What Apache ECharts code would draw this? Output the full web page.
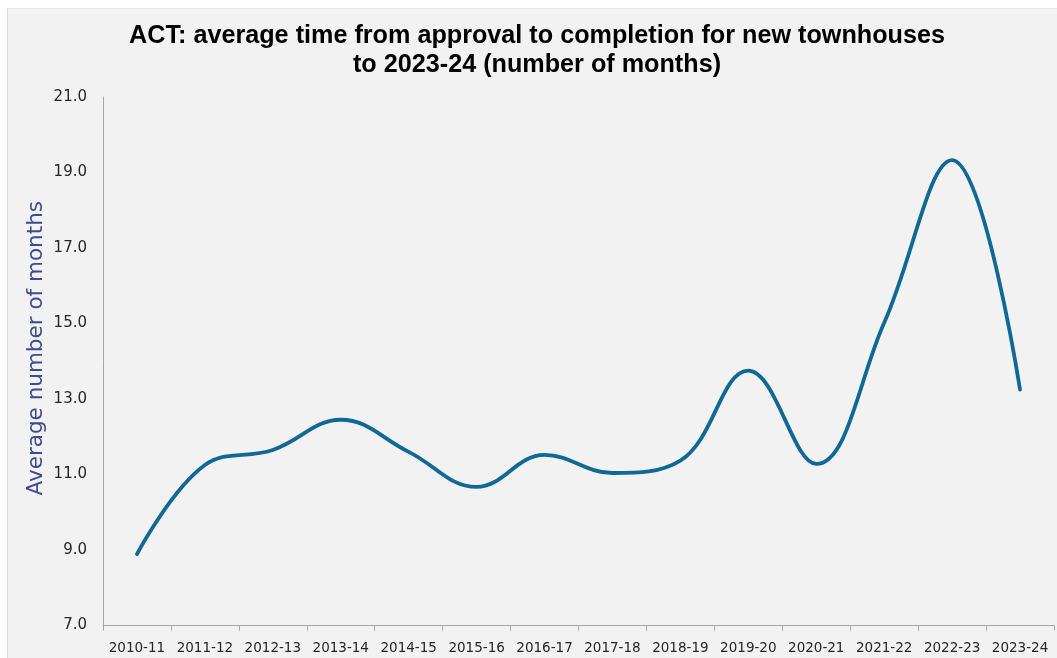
<!DOCTYPE html>
<html>
<head>
<meta charset="utf-8">
<script src="https://cdn.jsdelivr.net/npm/echarts@6/dist/echarts.min.js"></script>
<style>
html,body{margin:0;padding:0;background:#fff;width:1057px;height:658px;overflow:hidden;}
#bg{position:absolute;left:7px;top:8px;width:1050px;height:650px;background:#f2f2f2;border-left:1px solid #d9d9d9;border-top:1px solid #e6e6e6;}
#chart{position:absolute;left:0;top:0;width:1057px;height:658px;}
</style>
</head>
<body>
<div id="bg"></div>
<div id="chart"></div>
<script>
const titleText = "ACT: average time from approval to completion for new townhouses\nto 2023-24 (number of months)";
const yAxisName = "Average number of months";
const categories = ["2010-11","2011-12","2012-13","2013-14","2014-15","2015-16","2016-17","2017-18","2018-19","2019-20","2020-21","2021-22","2022-23","2023-24"];
const months = [8.89, 11.25, 11.65, 12.45, 11.6, 10.67, 11.52, 11.04, 11.37, 13.75, 11.28, 15.02, 19.33, 13.25];

const chart = echarts.init(document.getElementById('chart'), null, {renderer:'canvas'});
chart.setOption({
  backgroundColor: 'transparent',
  animation: false,
  title: {
    text: titleText,
    left: 532,
    textAlign: 'center',
    top: 17,
    textStyle: {fontFamily: 'Liberation Sans, Arial, sans-serif', fontWeight: 'bold', fontSize: 25.2, lineHeight: 29, color: '#000'}
  },
  grid: {left: 103, right: 3, top: 97, bottom: 32.5, containLabel: false},
  xAxis: {
    type: 'category',
    data: categories,
    boundaryGap: true,
    axisLine: {lineStyle: {color: '#a6a6a6', width: 1}},
    axisTick: {show: true, length: 5, lineStyle: {color: '#a6a6a6'}},
    axisLabel: {color: '#262626', fontSize: 13.5, fontFamily: 'DejaVu Sans, sans-serif', margin: 16, interval: 0}
  },
  yAxis: {
    type: 'value',
    min: 7, max: 21, interval: 2,
    name: yAxisName,
    nameLocation: 'middle',
    nameGap: 56,
    nameMoveOverlap: false,
    nameTextStyle: {color: '#3f4a91', fontSize: 21.5, fontFamily: 'DejaVu Sans, sans-serif', padding: [0, 0, 0, 26]},
    axisLine: {show: true, lineStyle: {color: '#a6a6a6', width: 1}},
    axisTick: {show: false},
    splitLine: {show: false},
    axisLabel: {color: '#262626', fontSize: 15, fontFamily: 'DejaVu Sans, sans-serif', margin: 16, formatter: v => v.toFixed(1)}
  },
  series: [{
    type: 'line',
    data: months,
    smooth: 0.4,
    showSymbol: false,
    lineStyle: {color: '#0f6896', width: 3.8, cap: 'round'}
  }]
});
</script>
</body>
</html>
